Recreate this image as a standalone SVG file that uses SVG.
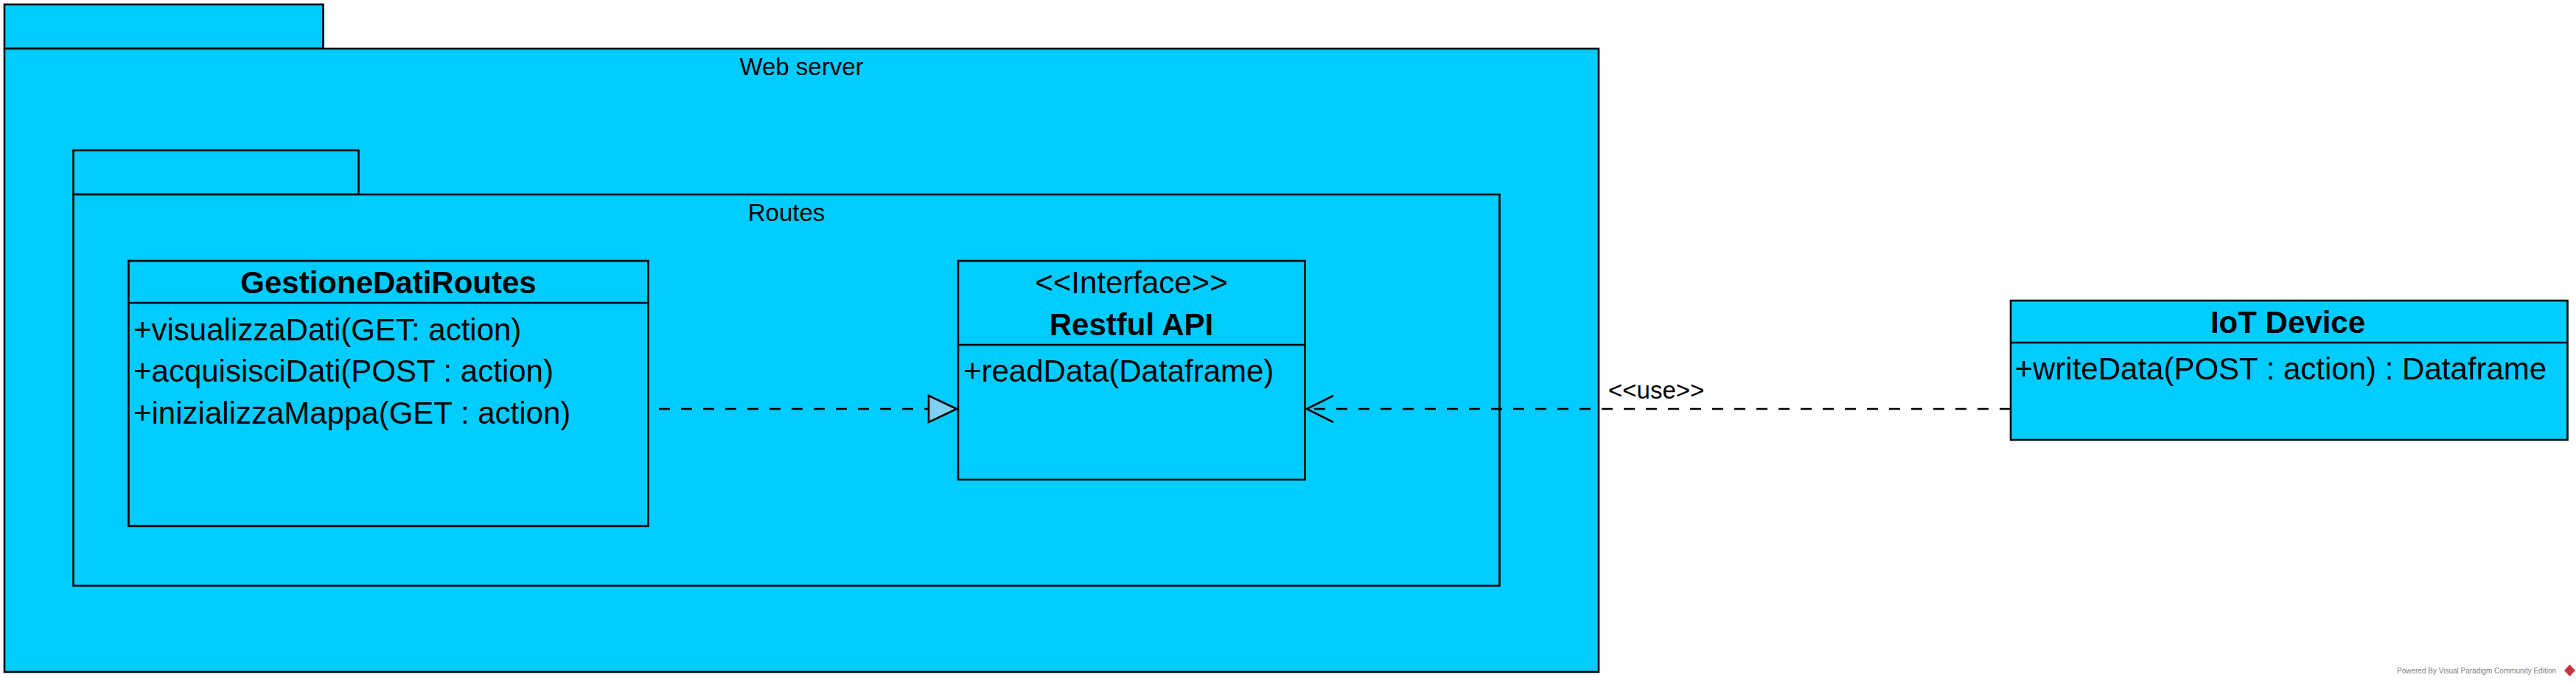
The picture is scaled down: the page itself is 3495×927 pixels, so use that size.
<svg xmlns="http://www.w3.org/2000/svg" width="3495" height="927" viewBox="0 0 3495 927">
<style>
.box{fill:#00CCFF;stroke:#000;stroke-width:2.6}
.ln{stroke:#000;stroke-width:2.6;fill:none}
.dash{stroke:#000;stroke-width:2.7;fill:none;stroke-dasharray:15 15}
.t{font-family:"Liberation Sans",Arial,sans-serif;fill:#000}
.pk{font-size:33px;text-anchor:middle}
.ti{font-size:42px;font-weight:bold;text-anchor:middle}
.st{font-size:42px;text-anchor:middle}
.op{font-size:42px}
</style>
<rect width="3495" height="927" fill="#fff"/>
<g id="web-server">
<rect class="box" x="6" y="6" width="432.5" height="60"/>
<rect class="box" x="6" y="66" width="2163" height="846"/>
<text class="t pk" x="1087.5" y="102">Web server</text>
</g>
<g id="routes">
<rect class="box" x="99.5" y="204" width="387" height="60"/>
<rect class="box" x="99.5" y="264" width="1935" height="531"/>
<text class="t pk" x="1067" y="300">Routes</text>
</g>
<g id="gestione-dati-routes">
<rect class="box" x="174.5" y="354" width="705" height="360"/>
<line class="ln" x1="174.5" y1="411" x2="879.5" y2="411"/>
<text class="t ti" x="527" y="398">GestioneDatiRoutes</text>
<text class="t op" x="181" y="462">+visualizzaDati(GET: action)</text>
<text class="t op" x="181" y="518">+acquisisciDati(POST : action)</text>
<text class="t op" x="181" y="575">+inizializzaMappa(GET : action)</text>
</g>
<g id="restful-api">
<rect class="box" x="1300" y="354" width="470.5" height="297"/>
<line class="ln" x1="1300" y1="468" x2="1770.5" y2="468"/>
<text class="t st" x="1535" y="398">&lt;&lt;Interface&gt;&gt;</text>
<text class="t ti" x="1535" y="455">Restful API</text>
<text class="t op" x="1307" y="518">+readData(Dataframe)</text>
</g>
<g id="iot-device">
<rect class="box" x="2728" y="408" width="755.5" height="189"/>
<line class="ln" x1="2728" y1="465" x2="3483.5" y2="465"/>
<text class="t ti" x="3104" y="452">IoT Device</text>
<text class="t op" x="2733.5" y="515">+writeData(POST : action) : Dataframe</text>
</g>
<g id="connectors">
<line class="dash" x1="894" y1="555" x2="1260" y2="555"/>
<polygon points="1260,537 1298,555 1260,573" fill="#80CFF4" stroke="#000" stroke-width="2.6" stroke-linejoin="miter"/>
<line class="dash" x1="2728" y1="555" x2="1775" y2="555"/>
<polyline class="ln" points="1809,537 1773,555 1809,573"/>
<text class="t" x="2182" y="541" font-size="33px">&lt;&lt;use&gt;&gt;</text>
</g>
<g id="footer">
<text class="t" x="3252" y="914" font-size="10px" fill="#808080" style="fill:#808080">Powered By Visual Paradigm Community Edition</text>
<path d="M3486.5,902 L3494,910 L3486.5,918 L3479,910 Z" fill="#c8323c"/>
</g>
</svg>
